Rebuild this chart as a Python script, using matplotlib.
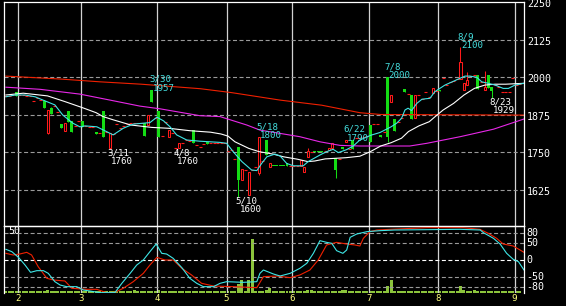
import numpy as np
import matplotlib
matplotlib.use("Agg")
import matplotlib.pyplot as plt
import matplotlib.transforms as mtransforms

plt.rcParams["font.family"] = "DejaVu Sans Mono"
plt.rcParams["lines.scale_dashes"] = False

# x = trading-day index, 0 = first trading day of February
month_labels = ["2", "3", "4", "5", "6", "7", "8", "9"]
month_start = [0, 18, 40, 60, 79, 101, 121, 143]
first_day = -4

opens = [1936, 1938, 1940, 1950, 1940, 1940, 1938, 1936, 1920, 1930,
         1925, 1921, 1812, 1898, 1905, 1885, 1844, 1820, 1887, 1854,
         1838, 1853, 1853, 1836, 1835, 1834, 1818, 1814, 1887, 1818,
         1762, 1810, 1843, 1829, 1838, 1845, 1846, 1846, 1847, 1846,
         1846, 1841, 1957, 1862, 1888, 1803, 1850, 1801, 1815, 1763,
         1764, 1779, 1790, 1788, 1822, 1773, 1768, 1777, 1784, 1781,
         1781, 1781, 1781, 1779, 1753, 1758, 1726, 1768, 1657, 1690,
         1607, 1690, 1700, 1680, 1720, 1790, 1699, 1704, 1704, 1704,
         1704, 1714, 1703, 1703, 1703, 1704, 1682, 1732, 1751, 1752,
         1752, 1752, 1755, 1757, 1762, 1729, 1726, 1768, 1784, 1760,
         1790, 1796, 1796, 1800, 1805, 1840, 1842, 1843, 1807, 1818,
         2000, 1918, 1859, 1850, 1862, 1960, 1945, 1940, 1862, 1940,
         1926, 1950, 1935, 1948, 1955, 1958, 1998, 1975, 1985, 1988,
         1992, 1992, 1957, 1973, 2003, 2007, 2007, 1984, 1957, 2007,
         1968, 1973, 1968, 1950, 1950, 1950, 1996, 1975, 1978]
highs = [1936, 1938, 1940, 1951, 1940, 1940, 1938, 1936, 1920, 1930,
         1925, 1922, 1891, 1899, 1905, 1885, 1844, 1848, 1887, 1854,
         1838, 1853, 1853, 1836, 1835, 1834, 1818, 1814, 1887, 1818,
         1812, 1810, 1843, 1829, 1838, 1845, 1846, 1846, 1847, 1846,
         1846, 1873, 1957, 1862, 1888, 1803, 1850, 1823, 1815, 1763,
         1781, 1779, 1790, 1788, 1822, 1773, 1768, 1777, 1784, 1781,
         1781, 1781, 1781, 1779, 1753, 1758, 1726, 1768, 1692, 1690,
         1684, 1690, 1700, 1800, 1720, 1790, 1714, 1704, 1704, 1704,
         1704, 1714, 1703, 1703, 1703, 1723, 1701, 1762, 1751, 1752,
         1752, 1752, 1755, 1762, 1779, 1729, 1726, 1768, 1790, 1760,
         1790, 1796, 1796, 1800, 1805, 1840, 1842, 1843, 1807, 1818,
         2000, 1940, 1859, 1850, 1862, 1960, 1945, 1940, 1940, 1940,
         1926, 1950, 1935, 1962, 1955, 1958, 1998, 1975, 1985, 1988,
         1992, 2100, 1979, 2018, 2003, 2007, 2007, 1984, 2021, 2007,
         1968, 1973, 1968, 1950, 1950, 1950, 1996, 1975, 1978]
lows = [1936, 1938, 1940, 1936, 1940, 1940, 1938, 1936, 1920, 1930,
        1925, 1897, 1811, 1878, 1905, 1885, 1831, 1820, 1851, 1818,
        1838, 1853, 1832, 1836, 1835, 1834, 1810, 1814, 1801, 1818,
        1760, 1810, 1843, 1829, 1838, 1845, 1846, 1846, 1847, 1846,
        1804, 1841, 1918, 1862, 1801, 1803, 1850, 1801, 1815, 1760,
        1764, 1779, 1790, 1788, 1780, 1773, 1768, 1777, 1777, 1781,
        1781, 1781, 1781, 1779, 1753, 1758, 1726, 1600, 1657, 1690,
        1607, 1690, 1700, 1673, 1720, 1740, 1699, 1702, 1702, 1702,
        1702, 1704, 1703, 1703, 1703, 1704, 1682, 1732, 1751, 1750,
        1750, 1750, 1755, 1757, 1762, 1664, 1726, 1761, 1784, 1760,
        1759, 1796, 1796, 1800, 1805, 1784, 1842, 1843, 1799, 1818,
        1784, 1918, 1820, 1850, 1862, 1949, 1945, 1860, 1862, 1940,
        1926, 1950, 1935, 1948, 1955, 1955, 1998, 1975, 1985, 1988,
        1992, 1992, 1957, 1973, 2003, 2007, 1959, 1984, 1957, 1964,
        1929, 1973, 1968, 1950, 1950, 1950, 1996, 1975, 1978]
closes = [1936, 1938, 1940, 1937, 1940, 1940, 1938, 1936, 1920, 1930,
          1925, 1898, 1890, 1878, 1905, 1885, 1831, 1848, 1851, 1818,
          1838, 1853, 1832, 1836, 1835, 1834, 1810, 1814, 1801, 1818,
          1812, 1810, 1843, 1829, 1838, 1845, 1846, 1846, 1847, 1846,
          1804, 1873, 1918, 1862, 1801, 1803, 1850, 1823, 1815, 1763,
          1781, 1779, 1790, 1788, 1780, 1773, 1768, 1777, 1777, 1781,
          1781, 1781, 1781, 1779, 1753, 1758, 1726, 1657, 1692, 1690,
          1684, 1690, 1700, 1800, 1720, 1740, 1714, 1702, 1702, 1702,
          1702, 1704, 1703, 1703, 1703, 1723, 1701, 1753, 1751, 1750,
          1750, 1750, 1755, 1762, 1779, 1690, 1726, 1761, 1790, 1760,
          1759, 1796, 1796, 1800, 1805, 1784, 1842, 1843, 1799, 1818,
          1801, 1940, 1820, 1850, 1862, 1949, 1945, 1860, 1940, 1940,
          1926, 1950, 1935, 1962, 1955, 1955, 1998, 1975, 1985, 1988,
          1992, 2051, 1979, 1990, 2003, 2007, 1959, 1984, 1968, 1964,
          1954, 1973, 1968, 1950, 1950, 1950, 1996, 1975, 1978]

volume = [1.2] * 12 + [2.0] + [1.2] * 24 + [2.0] + [1.2] * 6 + [2.0] + \
         [1.2] * 22 + [7.0, 9.5, 1.2, 9.5, 40.0, 1.2, 1.2, 1.2, 2.0, 3.7] + \
         [1.2] * 10 + [2.0, 2.0] + [1.2] * 8 + [2.0, 2.0] + [1.2] * 11 + \
         [5.0, 9.5] + [1.2] * 19 + [5.5, 2.0, 1.2, 1.2, 2.0] + [1.2] * 13

# moving averages (x = day index)
ma_short_x = [-4, -1.4, 1.5, 4.4, 6.7, 10.1, 12.4, 15.3, 17.3, 18.8, 22.2, 25, 26.9,
              29.8, 32.7, 35.6, 37.5, 39.5, 41.4, 43.3, 45.2, 48.1, 51.9, 57.7, 59.6,
              61.5, 64, 66.8, 68.3, 69.7, 71.2, 73.5, 75, 76.9, 78.8, 81.7, 83.1,
              86.5, 88.4, 90.3, 91.8, 94.2, 96.1, 98, 101.2, 103.8, 107, 108.6, 110,
              111, 111.9, 112.9, 114.4, 115.9, 118.2, 119.6, 122.5, 125.4, 126.9,
              128.3, 129.7, 131.7, 133.1, 135, 137, 139.3, 140.8, 142.7, 145.3]
ma_short = [1934, 1940, 1940, 1934, 1923, 1907, 1873, 1846, 1834, 1837, 1834, 1818, 1807,
            1829, 1843, 1846, 1848, 1866, 1854, 1834, 1807, 1790, 1786, 1782, 1779,
            1751, 1718, 1690, 1688, 1712, 1734, 1743, 1737, 1712, 1704, 1704, 1718,
            1740, 1751, 1759, 1748, 1758, 1770, 1790, 1806, 1815, 1834, 1846, 1862,
            1890, 1896, 1888, 1912, 1926, 1929, 1951, 1973, 1988, 1996,
            2003, 2003, 1999, 1984, 1979, 1973, 1962, 1962, 1973, 1979]

ma_mid_x = [-4, 1, 8, 13, 18, 22, 24, 27, 32, 38, 43, 49, 55, 58, 60, 62, 66, 69, 73,
            76, 80, 83, 85, 88, 94, 98, 101, 104, 107, 110, 112, 115, 118, 119.7, 122,
            125, 128, 131, 134, 137, 140, 145.3]
ma_mid = [1940, 1946, 1937, 1918, 1898, 1881, 1868, 1857, 1840, 1832, 1829, 1821, 1816,
          1810, 1803, 1784, 1762, 1751, 1743, 1734, 1726, 1718, 1720, 1727, 1731, 1736,
          1751, 1770, 1781, 1796, 1818, 1837, 1851, 1868, 1890, 1912, 1940, 1962, 1973,
          1976, 1976, 1979]

ma_long_x = [-4, 5.8, 17.3, 26, 34.6, 40.4, 51.9, 57.7, 65.4, 69.2, 75, 80.7, 86.5,
             92.3, 98, 112.4, 117.3, 126.9, 136.5, 145.3]
ma_long = [1966, 1959, 1943, 1923, 1903, 1894, 1871, 1868, 1840, 1823, 1812, 1801, 1784,
           1772, 1770, 1770, 1779, 1801, 1826, 1860]

ma_year_x = [-4, 12, 23, 35, 52, 61, 75, 87, 98, 104, 145.3]
ma_year = [2003, 1993, 1984, 1976, 1961, 1948, 1923, 1906, 1881, 1875, 1873]

# oscillator (lower panel)
osc_a_x = [-4, -2.3, -0.4, 1.5, 3.1, 4.9, 6.8, 8.2, 10.1, 11.6, 13.5, 16.4, 18.3, 20.2,
           23.1, 27.4, 29.4, 31.8, 33.7, 35.6, 37.5, 39.3, 40.9, 42.3, 44.2, 46.7, 49,
           51, 52.9, 55.8, 57.7, 59.6, 64.4, 68.3, 69.2, 70.2, 73.1, 75, 77.9, 80.7,
           82.7, 84.6, 86.5, 88.4, 89.9, 91.3, 93.1, 94.2, 95.2, 97.1, 100, 103.8, 108,
           126.9, 132.7, 133.6, 136.5, 138.4, 140.3, 142.2, 143.7, 145.3]
osc_a = [32, 25, 8, -15, -37, -32, -32, -40, -65, -75, -80, -80, -90, -93,
         -98, -98, -70, -40, -15, 0, 25, 48, 20, 18, 5, -23, -55,
         -70, -80, -80, -70, -65, -67, -65, -40, -30, -42, -48, -40, -25,
         -10, 20, 58, 53, 50, 28, 20, 30, 68, 78, 85, 88, 90,
         92, 90, 82, 65, 48, 20, 2, -5, -30]
osc_b_x = [-4, -1.9, 0, 2, 3.4, 5.3, 7.8, 9.7, 13, 15, 19.3, 22.2, 25, 27.4, 29.8, 32.7,
           35.6, 37.5, 39.5, 41.8, 44.2, 46.7, 49.5, 52.4, 55.8, 61.5, 68.3, 70.2, 74,
           77.9, 80.7, 83.6, 86, 88.4, 91.3, 94.2, 96.6, 98, 99, 100.9, 102.9, 106.7,
           117.4, 127.7, 132.6, 135, 137.4, 139.3, 142.2, 145.3]
osc_b = [20, 15, 18, 23, 15, -20, -55, -60, -63, -85, -88, -88, -98, -97, -85, -65,
         -40, -15, 8, 0, 0, -25, -45, -70, -78, -80, -83, -50, -48,
         -53, -45, -30, 0, 45, 53, 48, 45, 42, 65, 85, 90, 92,
         97, 97, 92, 80, 65, 48, 42, 23]

# marked highs (cyan) and lows (white)
marks_day = [38, 26, 45, 63, 69, 94, 106, 127, 136]
marks_text = ["3/30", "3/11", "4/8", "5/10", "5/18", "6/22", "7/8", "8/9", "8/23"]
marks_price = [1957, 1760, 1760, 1600, 1800, 1790, 2000, 2100, 1929]
marks_high = [True, False, False, False, True, True, True, True, False]

price_ticks = [2250, 2125, 2000, 1875, 1750, 1625]
osc_ticks = [80, 50, 0, -50, -80]

RED = "#ff1a1a"
GREEN = "#14dc14"
GRID = "#d2d2d2"
DASH = "#9a9a9a"

W, H = 566, 306
fig = plt.figure(figsize=(W / 100, H / 100), dpi=100, facecolor="black")
ax = fig.add_axes([4 / W, 1 - 226 / H, 520 / W, 224 / H], facecolor="black")
ax2 = fig.add_axes([4 / W, 1 - 293 / H, 520 / W, 67 / H], facecolor="black")
xlim = (-4.553, 145.3)

days = np.arange(first_day, first_day + len(opens))
o = np.array(opens, float)
h = np.array(highs, float)
l = np.array(lows, float)
c = np.array(closes, float)

# grid
for a in (ax, ax2):
    for m in month_start:
        a.axvline(m - 0.43, color=GRID, lw=0.9, zorder=1)
for v in price_ticks[1:]:
    ax.axhline(v, color=DASH, lw=0.8, dashes=(2.9, 1.8), zorder=1)
for v in osc_ticks:
    col = "white" if v == 0 else DASH
    ax2.axhline(v, color=col, lw=0.8, dashes=(2.9, 1.8), zorder=1)

# candles
up = c > o
down = c < o
flat = c == o
ax.vlines(days[up], l[up], h[up], color=RED, lw=0.75, zorder=2)
ax.vlines(days[down], l[down], h[down], color=GREEN, lw=0.75, zorder=2)
ax.bar(days[up], c[up] - o[up], bottom=o[up], width=0.58, facecolor="black",
       edgecolor=RED, linewidth=0.75, zorder=3)
ax.bar(days[down], np.maximum(o[down] - c[down], 3.3), bottom=c[down], width=0.86,
       color=GREEN, linewidth=0, zorder=3)
ax.hlines(c[flat], days[flat] - 0.43, days[flat] + 0.43, color=RED, lw=0.8, zorder=3)
ax.vlines(days[flat], l[flat], h[flat], color=RED, lw=0.75, zorder=2)

# moving averages
ax.plot(ma_year_x, ma_year, color="#f02000", lw=0.8, zorder=4)
ax.plot(ma_long_x, ma_long, color="#e828e8", lw=0.8, zorder=4)
ax.plot(ma_mid_x, ma_mid, color="white", lw=0.8, zorder=4)
ax.plot(ma_short_x, ma_short, color="#3ee6e6", lw=0.8, zorder=4)

ax.set_xlim(*xlim)
ax.set_ylim(2250 - 224 / 0.3, 2250)

# high / low marks
for d, t, p, hi in zip(marks_day, marks_text, marks_price, marks_high):
    col = "#44dddd" if hi else "white"
    dy1, dy2 = (10.5, 1.5) if hi else (-3.7, -12.3)
    t1 = mtransforms.offset_copy(ax.transData, fig=fig, x=-2.7, y=dy1, units="dots")
    t2 = mtransforms.offset_copy(ax.transData, fig=fig, x=1.0, y=dy2, units="dots")
    ax.text(d, p, t, transform=t1, color=col, fontsize=6.6, ha="left", va="center", zorder=6)
    ax.text(d, p, str(p), transform=t2, color=col, fontsize=6.6, ha="left", va="center", zorder=6)

# price labels on the right
tr = mtransforms.blended_transform_factory(ax.transAxes, ax.transData)
tr = tr + mtransforms.ScaledTranslation(3 / 100, -2.3 / 100, fig.dpi_scale_trans)
for v in price_ticks:
    ax.text(1.0, v, str(v), transform=tr, color="white", fontsize=7.2, va="center", ha="left")

# lower panel: volume + oscillator
axv = ax2.twinx()
axv.set_position(ax2.get_position())
axv.bar(days, volume, width=0.86, color="#8cc43c", linewidth=0, zorder=2)
axv.set_ylim(0, 50)
axv.set_axis_off()
ax2.set_zorder(axv.get_zorder() + 1)
ax2.patch.set_visible(False)
axv.patch.set_visible(True)

ax2.plot(osc_b_x, osc_b, color="#f02000", lw=0.8, zorder=4)
ax2.plot(osc_a_x, osc_a, color="#3ee6e6", lw=0.8, zorder=4)
ax2.set_xlim(*xlim)
axv.set_xlim(*xlim)
ax2.set_ylim(-99, 102)

tr2 = mtransforms.blended_transform_factory(ax2.transAxes, ax2.transData)
tr2 = tr2 + mtransforms.ScaledTranslation(2 / 100, 0, fig.dpi_scale_trans)
for v in osc_ticks:
    ax2.text(1.0, v, str(v), transform=tr2, color="white", fontsize=7.2, va="center", ha="left")
ax2.text(0.008, 0.93, "50", transform=ax2.transAxes, color="white", fontsize=7.2,
         va="center", ha="left", zorder=6)

trx = mtransforms.blended_transform_factory(ax2.transData, ax2.transAxes)
trx = trx + mtransforms.ScaledTranslation(0, -5.5 / 100, fig.dpi_scale_trans)
for m, lab in zip(month_start, month_labels):
    ax2.text(m - 0.43, 0.0, lab, transform=trx, color="#ffff80", fontsize=6.6,
             ha="center", va="center", clip_on=False)

for a in (ax, ax2):
    a.set_xticks([])
    a.set_yticks([])
    for s in a.spines.values():
        s.set_color("white")
        s.set_linewidth(0.9)
        s.set_zorder(10)
ax2.spines["bottom"].set_visible(False)

fig.savefig("out.png", dpi=100, facecolor="black")
